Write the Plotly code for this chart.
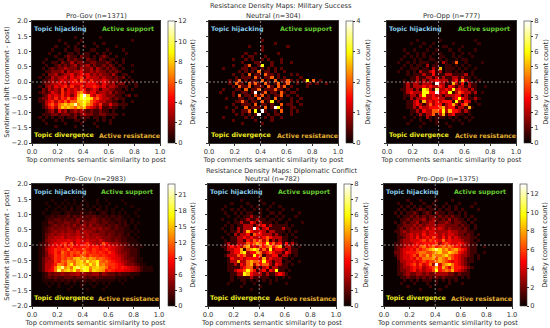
import plotly.graph_objects as go

# Each row is one y bin (top = 1.45, going down to -1.45); each character one x bin, base-36 count.
grid_mil_gov = [
"0000000000000100000001000000000000000000",
"0000000010000001000000000000000100000000",
"0000000000100010000100100000000000000000",
"0000000100010100100010000010000000000000",
"0000001000100110001100010000100000000000",
"0000010010011010110010101000010000000000",
"0000000100121102110101210010000000000000",
"0000100011021211021102101100100000000000",
"0001001102113122112211121010100000000000",
"0000100121212312231211212101000100000000",
"0001012122322213223132121210100000000000",
"0000112223132334223232212121000100000000",
"0001022312334234342323221310110000000000",
"0010113233424345243332322121201000000000",
"0001123234334536435333432221010100000000",
"0001223343424444344432432312201010000000",
"0010232434535335344543423321110010000000",
"0002132325243435423431332211010100000000",
"0012124325343467534423323121100000000000",
"0001243435342479c84354322211012010000000",
"0012243535464589a98564332121100000000000",
"0011345354646688986543322110100100000000",
"0001356467878b78976435224221110000000000",
"0001245368787687854324112110100000000000",
"0000123142312323212112110100000000000000",
"0001112212221212322112211110100000000000",
"0010101011011201110110100100000000000000",
"0001000101000110100010101000000000000000",
"0000100000100001000100001000000000000000",
"0000000100000100000010000000000000000000",
]
grid_mil_neu = [
"0000000000000000000000000000000000000000",
"0000000000000000100000000000000000000000",
"0000000000000000000010000000000000000000",
"0000000000001000100000001000000000000000",
"0000000000000000100000000000000000000000",
"0000000000010010000001000000000000000000",
"0000000000101100010000000000000000000000",
"0000000100010100101000100000000000000000",
"0000000000100011000100100100000000000000",
"0000000100012001300100000000000000000000",
"0000100000110110101010100000000000000000",
"0000000001010102011010010000000000000000",
"0000000100102011021101000101000000000000",
"0000000010111021011201010000100000000000",
"0000001012010110201020112101013020100000",
"0000001021102121021012012001001101001000",
"0000000102112011102102120100001000000000",
"0000100011020112011121101001000000000000",
"0001000100110140120110210110000000000000",
"0000000102011021201011201001000000000000",
"0000010001101102011020100100100000000000",
"0000000011210110201301000101000000000000",
"0000000100111020110100201100100000000000",
"0000010010020111020143100110000000000000",
"0000000100112030410010200101000000000000",
"0000000010101014001011000100000000000000",
"0000100000010100010100100000000000000000",
"0000000100000010000100000000000000000000",
"0000000000100000100000000000000000000000",
"0000000000000000000000000000000000000000",
]
grid_mil_opp = [
"0000000000000000000000000000000000000000",
"0000000001000000100000000001000000000000",
"0000000100010010000010000000100000000000",
"0000000000100100011000010000000000000000",
"0000010010001001000100100001000000000000",
"0000001001010010100010010100000000000000",
"0000010101010100110010100010000000000000",
"0000100010100110101001011000000000000000",
"0001001010111001021014001000010000000000",
"0000010101102011001101010100000000000000",
"0000100111011021501110101001000000000000",
"0001001010211231201101010010000000000000",
"0000001011121131112211112010000000000000",
"0000000112112212121122121101000000000000",
"0000010112121223222123152100100000000000",
"0000012122122218221152130211000000000000",
"0000012122232322321321221211001000000000",
"0000112212165217223262322121000000000000",
"0000012322266338232612432212010000000000",
"0000011221362232212223312101000000000000",
"0000010212232233221123632112100000000000",
"0000001123152323233316213201000000000000",
"0000001123212423312352134100100000000000",
"0000001121322333452331221510000000000000",
"0000000112132244362533212100000000000000",
"0000000101212241251231110100000000000000",
"0000010010102101110101001010000000000000",
"0000000100100101000010100100000000000000",
"0000001000010001001000010000000000000000",
"0000000000100000000100000000000000000000",
]
grid_dip_gov = [
"0000001000100100100010010000100000000000",
"0000100101010101010010001000010000000000",
"0000010010101011010101010010000100000000",
"0000100101102011101021010100100001000000",
"0001001110121112112101210101010010000000",
"0000112122231323232322121212101001000000",
"0000122332323243323432322122110100000000",
"0001133233443342434432332212120101000000",
"0001123434343534535343323232121010000000",
"0001234344454345444545343232211010000000",
"0001234545455464655434433322211101000000",
"0001345456565565564554434323212010000000",
"0001355667566676565565444333221101000000",
"0001456677787687676657544343221110000000",
"0012356879a7b6878a7656b86554332111000000",
"0012468797a8a8899a8997978765432211100000",
"0012578a9a9c8a99b98a989a8765433221000000",
"0012478a8ca9bab9ca9a9a98a865443221000000",
"0012467a9ba9b9acb9baa9a98876543221000000",
"0013557a9bacbefdecedbcba9877543321100000",
"0013566a9cbedcfgdiefhcbca987654321100000",
"00136679dcaehcfgfdheicdbaa98754432110000",
"0013668cgkdfchjgihdfgeec9a98987654211100",
"0013678cjdfgehcfihcgfed9a988877654211100",
"0001243445445564544553543323222111000000",
"0001232322333233323232222211110100000000",
"0001111212121211211211111101010000000000",
"0000101010110101101010101000100000000000",
"0000010010001001000100010000000000000000",
"0000000000010000010000100000000000000000",
]
grid_dip_neu = [
"0000000000100000100000000000000000000000",
"0000000100001000010010000000000000000000",
"0000010000100101000100100000000000000000",
"0000100101010010101000010010000000000000",
"0000010010101100100110100000100000000000",
"0000001001011211101001010001000000000000",
"0000100010112112110110100100000000000000",
"0000001011211321211101001000010000000000",
"0000010101122212231211111010000000000000",
"0000100102122283123111121100000000000000",
"0000010112125322321221110101000000000000",
"0000001021223143322212101010000000000000",
"0000100112232322234322211001000000000000",
"0000010112213243424121211010000000000000",
"0000012112224345436342313121000000000000",
"0000112323245232434534512210100000000000",
"0000012233514565242623321211000000000000",
"0000001233562335423432213211000000000000",
"0000012224342263412233122101000000000000",
"0000001322323333252322211010000000000000",
"0000001225224544363212201100100000000000",
"0000001121324524344213211010000000000000",
"0000001111234412123122111000000000000000",
"0000001123346431231326110100000000000000",
"0000000112265322212112321000000000000000",
"0000000101111211111001010100000000000000",
"0000000100110101010101000000000000000000",
"0000001000010010000100001000000000000000",
"0000000000100000100000000000000000000000",
"0000000000000100000000000000000000000000",
]
grid_dip_opp = [
"0000000100010000100001000000000000000000",
"0000100010001001000100010000100000000000",
"0000010101010110101010100001000000000000",
"0000101010121011010110101000010000000000",
"0001010112101210211011010100000000000000",
"0000101121212122121212110101000000000000",
"0000011212223123212131211010100000000000",
"0001012122312233122321221101000000000000",
"0000112223232333233222212110100000000000",
"0000121232323534343232221210100000000000",
"0001123233334344333343322211000000000000",
"0000122343435344434344322121010000000000",
"0000112343534546435353432221100000000000",
"0000123344456465547454443221010000000000",
"0001123334545555635654454321100000000000",
"0001223445467567567676553321100100000000",
"0001234454656789b97867865421100000000000",
"0002234555677667897798754321100100000000",
"0001234456476868778976543321010000000000",
"0000234454657778687686543211010000000000",
"0000133445456566787654543211000000000000",
"0000123456464573d47897543210000000000000",
"0000123345453456858647554321000000000000",
"0000122345343446a56768543210000000000000",
"0000112322332322333322121110000000000000",
"0000011211212121212111101010000000000000",
"0000001010101110101010100000000000000000",
"0000010001000100100010001000000000000000",
"0000000100000010000100000000000000000000",
"0000000000010000010000000000000000000000",
]

panel_titles = ["Pro-Gov (n=1371)", "Neutral (n=304)", "Pro-Opp (n=777)",
                "Pro-Gov (n=2983)", "Neutral (n=782)", "Pro-Opp (n=1375)"]
vmax_values = [12, 4, 8, 23, 8, 13]
dticks = [2, 1, 1, 3, 1, 2]
single_count_level = [1, 0.5, 0.6, 1, 0.6, 1]  # single-count cells read dimmer in the reference
grids = [grid_mil_gov, grid_mil_neu, grid_mil_opp, grid_dip_gov, grid_dip_neu, grid_dip_opp]
suptitles = ["Resistance Density Maps: Military Success", "Resistance Density Maps: Diplomatic Conflict"]
quadrant_labels = ["Topic hijacking", "Active support", "Topic divergence", "Active resistance"]
x_title = "Top comments semantic similarity to post"
y_title = "Sentiment shift (comment - post)"
cb_title = "Density (comment count)"

W, H = 550, 328
# left, right, top, bottom, colorbar-left in pixels
boxes = [(32, 160, 21, 143, 168), (209, 338, 21, 143, 346), (387, 516, 21, 143, 524),
         (32, 159, 184, 306, 168), (208, 336, 184, 306, 344), (384, 512, 184, 306, 520)]
hot = [[0, "rgb(10,0,0)"], [0.365, "rgb(255,0,0)"], [0.746, "rgb(255,255,0)"], [1, "rgb(255,255,255)"]]
TXT = "#303030"
FONT = "DejaVu Sans"
FS = 6.7
x_centers = [0.0125 + 0.025 * i for i in range(40)]
y_centers = [-1.95 + 0.1 * i for i in range(40)]


def decode(rows, one):
    body = [[(one if c == "1" else int(c, 36)) for c in r.ljust(40, "0")[:40]] for r in rows]
    return [[0] * 40 for _ in range(5)] + body[::-1] + [[0] * 40 for _ in range(5)]


fig = go.Figure()
annots = []
shapes = []
for i, (g, box) in enumerate(zip(grids, boxes)):
    l, r, t, b, cb = box
    n = "" if i == 0 else str(i + 1)
    fig.add_trace(go.Heatmap(
        x=x_centers, y=y_centers, z=decode(g, single_count_level[i]), zmin=0, zmax=vmax_values[i], colorscale=hot,
        xaxis="x" + n, yaxis="y" + n, hoverinfo="skip",
        colorbar=dict(
            x=cb / W, xanchor="left", y=1 - t / H, yanchor="top", len=(b - t) / H, lenmode="fraction",
            thickness=7, thicknessmode="pixels", xpad=0, ypad=0, outlinewidth=0.6, outlinecolor="#333",
            ticks="outside", ticklen=2, tickwidth=0.6, tickcolor="#333", dtick=dticks[i], tick0=0,
            tickfont=dict(size=FS, color=TXT, family=FONT),
            title=dict(text=cb_title, side="right", font=dict(size=FS, color=TXT, family=FONT)),
        ),
    ))
    common = dict(ticks="outside", ticklen=2, tickwidth=0.6, tickcolor="#333", showgrid=False, zeroline=False,
                  showline=True, linecolor="#333", linewidth=0.6, mirror=True, automargin=False,
                  tickfont=dict(size=FS, color=TXT, family=FONT))
    fig.update_layout(**{
        "xaxis" + n: dict(domain=[l / W, r / W], range=[0, 1], dtick=0.2, tickformat=".1f", anchor="y" + n,
                          title=dict(text=x_title, standoff=1, font=dict(size=FS, color=TXT, family=FONT)), **common),
        "yaxis" + n: dict(domain=[1 - b / H, 1 - t / H], range=[-2, 2], dtick=0.5, tickformat=".1f", anchor="x" + n,
                          showticklabels=i in (0, 3),
                          title=dict(text=y_title if i in (0, 3) else "", standoff=1,
                                     font=dict(size=FS, color=TXT, family=FONT)), **common),
    })
    xr, yr = "x" + n, "y" + n
    line = dict(color="rgba(255,255,255,0.75)", width=0.7, dash="2px,2px")
    shapes.append(dict(type="line", xref=xr, yref=yr, x0=0.4, x1=0.4, y0=-2, y1=2, line=line))
    shapes.append(dict(type="line", xref=xr, yref=yr, x0=0, x1=1, y0=0, y1=0, line=line))
    for text, lx, ly, col, anc in [
        (quadrant_labels[0], 0.0, 1.75, "#87ceeb", "left"),
        (quadrant_labels[1], 0.75, 1.75, "#66cc33", "center"),
        (quadrant_labels[2], 0.0, -1.75, "#eeee22", "left"),
        (quadrant_labels[3], 0.76, -1.75, "#e0b030", "center"),
    ]:
        annots.append(dict(x=lx, y=ly, xref=xr, yref=yr, text="<b>%s</b>" % text, showarrow=False, xanchor=anc,
                           yanchor="middle", font=dict(size=6.3, color=col, family=FONT)))
    annots.append(dict(x=(l + r) / 2 / W, y=1 - t / H, xref="paper", yref="paper", text=panel_titles[i],
                       showarrow=False, xanchor="center", yanchor="bottom",
                       font=dict(size=FS, color=TXT, family=FONT), borderpad=0))
for text, px, py in [(suptitles[0], 281, 6), (suptitles[1], 282, 171)]:
    annots.append(dict(x=px / W, y=1 - py / H, xref="paper", yref="paper", text=text, showarrow=False,
                       xanchor="center", yanchor="middle", font=dict(size=FS, color=TXT, family=FONT)))

fig.update_layout(width=W, height=H, margin=dict(l=0, r=0, t=0, b=0), paper_bgcolor="white", plot_bgcolor="black",
                  showlegend=False, annotations=annots, shapes=shapes)
fig.write_html("out.html", config={"displayModeBar": False},
               post_script="document.body.style.margin='0';document.documentElement.style.overflow='hidden';")
